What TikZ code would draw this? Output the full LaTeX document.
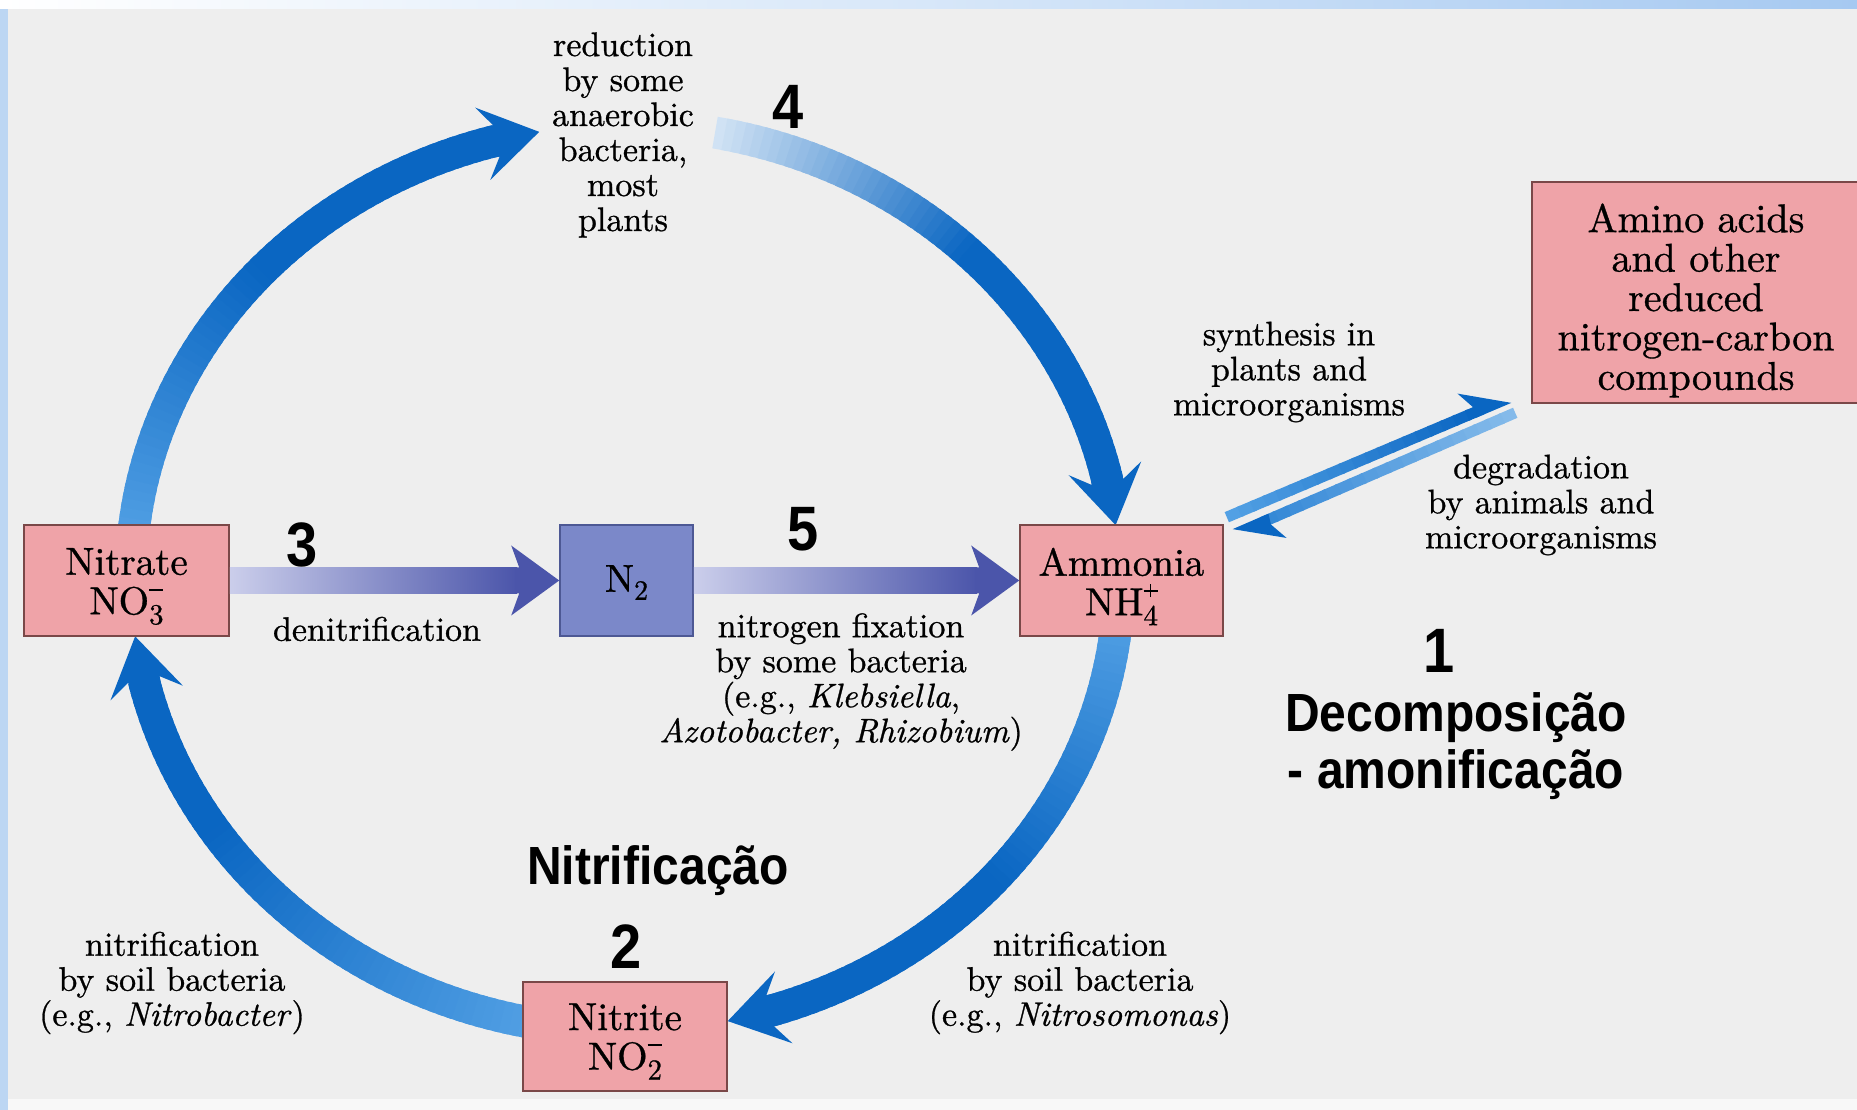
\documentclass[tikz,border=0pt]{standalone}
\usepackage{fontspec}
\usepackage{graphicx}
\setmainfont{lmroman10-regular.otf}[FakeBold=0.8, ItalicFont=lmroman10-italic.otf]
\newfontfamily\sansb{Liberation Sans}

\definecolor{bg}{HTML}{EEEEEE}
\definecolor{edgeblue}{HTML}{BCD6F3}
\definecolor{topblue}{HTML}{A6C9F1}
\definecolor{cdark}{HTML}{0A66C2}
\definecolor{cmid}{HTML}{52A0E4}
\definecolor{clight}{HTML}{D0E2F4}
\definecolor{hdark}{HTML}{4B55AA}
\definecolor{hlight}{HTML}{CBCEEB}
\definecolor{boxpink}{HTML}{EFA3A8}
\definecolor{boxline}{HTML}{7A4848}
\definecolor{nfill}{HTML}{7B88C9}
\definecolor{nline}{HTML}{4D5894}

\tikzset{
  lbl/.style={align=center, inner sep=0, font=\fontsize{34}{35}\selectfont},
  chem/.style={draw=boxline, line width=1.6, fill=boxpink, inner sep=0},
  chemtext/.style={align=center, inner sep=0, font=\fontsize{39}{39.5}\selectfont},
  num/.style={inner sep=0, font=\sansb\bfseries\fontsize{56}{60}\selectfont},
  ptlabel/.style={inner sep=0, font=\sansb\bfseries\fontsize{48}{52}\selectfont}
}
\newcommand\tallbox[1]{\scalebox{1}[1.12]{#1}}
% charge signs built from rules, set above the index
\newcommand\chminus{\raisebox{23.6pt}{\rule{14pt}{1.8pt}}}
\newcommand\chplus{\rlap{\raisebox{23.6pt}{\rule{14pt}{1.8pt}}}%
  \hspace*{6.1pt}\raisebox{18pt}{\rule{1.8pt}{13pt}}}
% ion index: #1 below, charge #2 stacked above it
\newcommand\ionidx[2]{{\fontsize{29}{29}\selectfont
  \rlap{#2}\raisebox{-10pt}{#1}}}
\newcommand\lowidx[1]{{\fontsize{28}{28}\selectfont\raisebox{-8pt}{#1}}}

% thick elliptical arrow around the cycle centre (625,532), colour graded along it
% #1 start angle, #2 head base angle, #3 tip angle, #4 start colour, #5 end colour,
% #6 fraction of the shaft after which the end colour is reached
\newcommand\ringarrow[6]{%
  \foreach \i in {0,...,59}{%
    \pgfmathsetmacro\ta{(#1)+((#2)-(#1))*\i/60}%
    \pgfmathsetmacro\tb{(#1)+((#2)-(#1))*(\i+1.6)/60}%
    \pgfmathsetmacro\pp{min(100,100*\i/(59*#6))}%
    \draw[line width=32, draw={#5!\pp!#4}] (C) ++(\ta:494 and 453)
      arc[start angle=\ta, end angle=\tb, x radius=494, y radius=453];
  }%
  \pgfmathsetmacro\bx{625+494*cos(#2)}%
  \pgfmathsetmacro\by{532+453*sin(#2)}%
  \pgfmathsetmacro\tx{625+494*cos(#3)}%
  \pgfmathsetmacro\ty{532+453*sin(#3)}%
  \pgfmathsetmacro\ang{atan2((\ty)-(\by),(\tx)-(\bx))}%
  \pgfmathsetmacro\len{veclen((\tx)-(\bx),(\ty)-(\by))}%
  \begin{scope}[shift={(\bx,\by)}, rotate=\ang]
    \fill[#5] (\len,0) -- (-8,37) -- (6,16) -- (-2,16) -- (-2,-16)
      -- (6,-16) -- (-8,-37) -- cycle;
  \end{scope}%
}

% thin half-headed arrow from coordinate #1 to coordinate #2
\newcommand\harpoon[4]{%
  \pgfpointdiff{\pgfpointanchor{#1}{center}}{\pgfpointanchor{#2}{center}}%
  \pgfgetlastxy{\hx}{\hy}%
  \pgfmathsetmacro\hang{atan2(\hy,\hx)}%
  \pgfmathsetmacro\hlen{veclen(\hx,\hy)}%
  \begin{scope}[shift={(#1)}, rotate=\hang]
    \foreach \k in {0,...,19}{%
      \pgfmathsetmacro\pp{100*\k/19}%
      \fill[fill={#4!\pp!#3}] ({(\hlen-32)*\k/20},-5.5) rectangle ({(\hlen-32)*(\k+1.2)/20},5.5);
    }
    \fill[#4] (\hlen,-5.5) -- (\hlen-46,24) -- (\hlen-37,5.5) -- (\hlen-39,-5.5) -- cycle;
  \end{scope}%
}

\begin{document}
\begin{tikzpicture}[x=1pt, y=1pt]
  \useasboundingbox (0,0) rectangle (1857,1110);
  \clip (0,0) rectangle (1857,1110);

  % slide background and its borders
  \fill[bg] (0,0) rectangle (1857,1110);
  \fill[white!60!bg] (0,0) rectangle (1857,11);
  \fill[edgeblue] (0,0) rectangle (8,1110);
  \shade[left color=white, right color=topblue, middle color=white!55!topblue]
    (0,1101) rectangle (1857,1110);

  \coordinate (C) at (625,532);

  % the nitrogen cycle
  \ringarrow{176}{105.8}{100}{cmid}{cdark}{0.55}
  \ringarrow{79.5}{13}{6.7}{clight}{cdark}{0.5}
  \ringarrow{-4}{-72.2}{-78}{cmid}{cdark}{0.55}
  \ringarrow{260}{193.7}{187.4}{cmid}{cdark}{0.7}

  % compounds
  \node[chem, minimum width=205, minimum height=111] (nitrate) at (126.5,529.5) {};
  \node[chemtext] (nitrateT) at ([yshift=-6]nitrate.center)
    {Nitrate\\NO\ionidx{3}{\chminus}};
  \node[chem, draw=nline, fill=nfill, minimum width=133, minimum height=111]
    (nitrogen) at (626.5,529.5) {};
  \node[chemtext] (nitrogenT) at ([yshift=-2]nitrogen.center) {N\lowidx{2}};
  \node[chem, minimum width=203, minimum height=111] (ammonia) at (1121.5,529.5) {};
  \node[chemtext] (ammoniaT) at ([yshift=-6]ammonia.center)
    {Ammonia\\NH\ionidx{4}{\chplus}};
  \node[chem, minimum width=204, minimum height=109] (nitrite) at (625,73.5) {};
  \node[chemtext] (nitriteT) at ([yshift=-5]nitrite.center)
    {Nitrite\\NO\ionidx{2}{\chminus}};
  \node[chem, minimum width=328, minimum height=221] (amino) at (1696,817.5) {};
  \node[chemtext, font=\fontsize{40}{39.4}\selectfont] (aminoT)
    at ([yshift=-8]amino.center)
    {Amino acids\\and other\\reduced\\nitrogen-carbon\\compounds};

  % denitrification and fixation
  \shade[left color=hlight, right color=hdark]
    ([yshift=-13]nitrate.east) rectangle ([xshift=-42,yshift=13]nitrogen.west);
  \fill[hdark] (nitrogen.west) -- ++(-48,35) -- ++(8,-22) -- ++(-4,0)
    -- ++(0,-26) -- ++(4,0) -- ++(-8,-22) -- cycle;
  \shade[left color=hlight, right color=hdark]
    ([yshift=-13]nitrogen.east) rectangle ([xshift=-42,yshift=13]ammonia.west);
  \fill[hdark] (ammonia.west) -- ++(-48,35) -- ++(8,-22) -- ++(-4,0)
    -- ++(0,-26) -- ++(4,0) -- ++(-8,-22) -- cycle;

  % synthesis and degradation
  \coordinate (synA) at ([shift={(3,7)}]ammonia.north east);
  \coordinate (synB) at ([shift={(-22,6)}]amino.south west);
  \coordinate (degA) at ([shift={(-16,-9)}]amino.south west);
  \coordinate (degB) at ([shift={(11,-10)}]ammonia.north east);
  \harpoon{synA}{synB}{cmid}{cdark}
  \harpoon{degA}{degB}{clight!40!cmid}{cdark}

  % process labels
  \node[lbl] (reduction) at (623,975)
    {reduction\\by some\\anaerobic\\bacteria,\\most\\plants};
  \node[lbl] (denit) at (377,481) {denitrification};
  \node[lbl] (fixation) at (841,428)
    {nitrogen fixation\\by some bacteria\\(e.g., \textit{Klebsiella},\\\textit{Azotobacter, Rhizobium})};
  \node[lbl] (synth) at (1289,738) {synthesis in\\plants and\\microorganisms};
  \node[lbl] (degr) at (1541,605) {degradation\\by animals and\\microorganisms};
  \node[lbl] (nitL) at (172,127)
    {nitrification\\by soil bacteria\\(e.g., \textit{Nitrobacter})};
  \node[lbl] (nitR) at (1080,127)
    {nitrification\\by soil bacteria\\(e.g., \textit{Nitrosomonas})};

  % step numbers and headings
  \node[num] (s4) at (788,1003) {\tallbox{4}};
  \node[num] (s3) at (302,565) {\tallbox{3}};
  \node[num] (s5) at (803,581) {\tallbox{5}};
  \node[num] (s1) at (1439,459) {\tallbox{1}};
  \node[num] (s2) at (626,163) {\tallbox{2}};
  \node[ptlabel] (decomp) at (1456,392) {\tallbox{Decomposição}};
  \node[ptlabel] (amonif) at (1456,335) {\tallbox{- amonificação}};
  \node[ptlabel] (nitrific) at (658,239) {\tallbox{Nitrificação}};
\end{tikzpicture}
\end{document}
